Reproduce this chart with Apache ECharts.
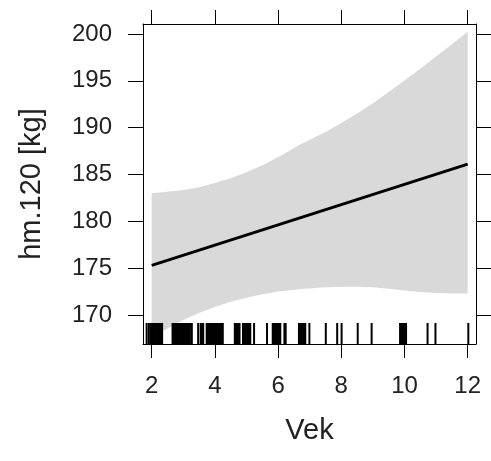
<!DOCTYPE html>
<html>
<head>
<meta charset="utf-8">
<script src="https://cdn.jsdelivr.net/npm/echarts@6/dist/echarts.min.js"></script>
<style>
  html, body { margin: 0; padding: 0; background: #fff; }
  #chart { width: 491px; height: 461px; }
</style>
</head>
<body>
<div id="chart"></div>
<script>
// Effect of age (Vek) on hm.120 [kg]: fitted line, 95% band and rug of observed ages.

// Grid of ages where the band edges are evaluated
const bandVek   = [2, 2.36, 3, 3.5, 4, 4.5, 5, 5.5, 6, 6.67, 7.5, 8, 8.5, 9, 9.5, 10, 10.5, 11, 11.5, 12];
const bandUpper = [183.0, 183.1, 183.35, 183.65, 184.1, 184.6, 185.25, 186.0, 186.85, 188.15, 189.55, 190.5, 191.5, 192.6, 193.8, 195.05, 196.3, 197.6, 198.9, 200.25];
const bandLower = [167.6, 168.3, 169.45, 170.2, 170.85, 171.4, 171.85, 172.2, 172.5, 172.75, 172.95, 173.0, 173.0, 172.95, 172.8, 172.6, 172.45, 172.35, 172.3, 172.3];

// Fitted line end points
const fitVek = [2, 12];
const fitHm  = [175.3, 186.1];

// Observed ages shown as a rug along the bottom
const rugVek = [
  1.84, 1.91,
  1.97, 2.01, 2.05, 2.09, 2.13, 2.17, 2.21, 2.25, 2.29, 2.33,
  2.66, 2.70, 2.74, 2.78, 2.82, 2.86, 2.90, 2.94, 2.98, 3.02, 3.06, 3.10, 3.14, 3.18, 3.21,
  3.27, 3.47,
  3.55, 3.59, 3.63,
  3.74, 3.78, 3.82, 3.86, 3.90, 3.94, 3.98, 4.02, 4.06, 4.10, 4.14, 4.18, 4.22, 4.25,
  4.63, 4.67, 4.71, 4.75, 4.78,
  4.89,
  4.94, 4.98, 5.02, 5.06, 5.10, 5.12,
  5.24, 5.65,
  5.83, 5.87, 5.91, 5.95, 5.99, 6.03, 6.07,
  6.20, 6.24,
  6.66, 6.70, 6.74, 6.78, 6.82, 6.86,
  6.99, 7.51, 7.87, 8.01, 8.52, 8.96,
  9.86, 9.90, 9.94, 9.98, 10.02, 10.05,
  10.73, 10.98, 12.02
];

// Axis ticks
const xTicks = [2, 4, 6, 8, 10, 12];
const yTicks = [170, 175, 180, 185, 190, 195, 200];

const X_MIN = 1.725, X_MAX = 12.263;
const Y_MIN = 166.9, Y_MAX = 201.07;

const FONT = '"Liberation Sans", Arial, sans-serif';

const chart = echarts.init(document.getElementById('chart'), null, { renderer: 'canvas' });

const baseX = {
  type: 'value', min: X_MIN, max: X_MAX,
  splitLine: { show: false },
  axisLine: { show: true, onZero: false, lineStyle: { color: '#000', width: 1 } },
  axisTick: { show: true, customValues: xTicks, length: 14, lineStyle: { color: '#000', width: 1 } }
};
const baseY = {
  type: 'value', min: Y_MIN, max: Y_MAX,
  splitLine: { show: false },
  axisLine: { show: true, onZero: false, lineStyle: { color: '#000', width: 1 } },
  axisTick: { show: true, customValues: yTicks, length: 15, lineStyle: { color: '#000', width: 1 } }
};

chart.setOption({
  animation: false,
  backgroundColor: '#fff',
  grid: { left: 143, right: 15, top: 24, bottom: 117, containLabel: false },
  xAxis: [
    Object.assign({}, baseX, {
      position: 'bottom',
      name: 'Vek', nameLocation: 'middle', nameGap: 72,
      nameTextStyle: { fontFamily: FONT, fontSize: 29, color: '#222' },
      axisLabel: { show: true, customValues: xTicks, margin: 30, fontFamily: FONT, fontSize: 24, color: '#222' }
    }),
    Object.assign({}, baseX, { position: 'top', axisLabel: { show: false } })
  ],
  yAxis: [
    Object.assign({}, baseY, {
      position: 'left',
      name: 'hm.120 [kg]', nameLocation: 'middle', nameGap: 97, nameRotate: 90,
      nameTextStyle: { fontFamily: FONT, fontSize: 29, color: '#222' },
      axisLabel: { show: true, customValues: yTicks, margin: 31, fontFamily: FONT, fontSize: 24, color: '#222' }
    }),
    Object.assign({}, baseY, { position: 'right', axisLabel: { show: false } })
  ],
  series: [
    {
      // confidence band as one polygon
      type: 'custom',
      xAxisIndex: 0, yAxisIndex: 0,
      data: bandVek.map((v, i) => [v, bandLower[i], bandUpper[i]]),
      renderItem: function (params, api) {
        if (params.dataIndex !== 0) return null;
        const pts = [];
        for (let i = 0; i < bandVek.length; i++) pts.push(api.coord([bandVek[i], bandUpper[i]]));
        for (let i = bandVek.length - 1; i >= 0; i--) pts.push(api.coord([bandVek[i], bandLower[i]]));
        return {
          type: 'polygon',
          shape: { points: pts },
          style: { fill: '#d9d9d9', stroke: null }
        };
      },
      clip: true,
      silent: true,
      z: 1
    },
    {
      // rug of observed ages
      type: 'custom',
      xAxisIndex: 0, yAxisIndex: 0,
      data: rugVek.map(v => [v]),
      renderItem: function (params, api) {
        const p = api.coord([api.value(0), Y_MIN]);
        return {
          type: 'line',
          shape: { x1: p[0], y1: p[1], x2: p[0], y2: p[1] - 21 },
          style: { stroke: '#000', lineWidth: 2 }
        };
      },
      encode: { x: 0 },
      silent: true,
      z: 3
    },
    {
      // fitted effect line
      type: 'line',
      xAxisIndex: 0, yAxisIndex: 0,
      data: fitVek.map((v, i) => [v, fitHm[i]]),
      symbol: 'none',
      lineStyle: { color: '#000', width: 3 },
      silent: true,
      z: 4
    }
  ]
});
</script>
</body>
</html>
